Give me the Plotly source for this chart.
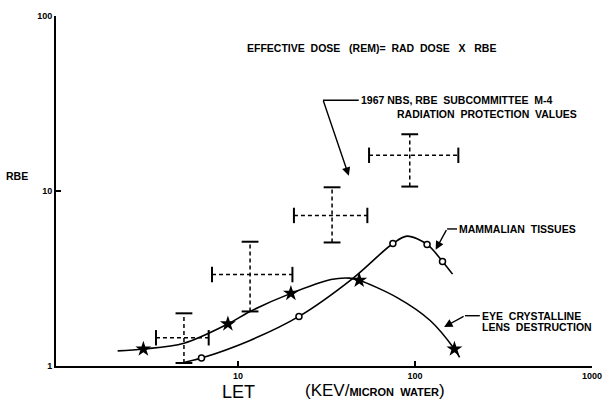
import numpy as np
import plotly.graph_objects as go

# ---- data: RBE versus LET (keV / micron water) ----
# 1967 NBS RBE subcommittee M-4 radiation protection values (ranges)
nbs_let = [4.95, 11.7, 34.0, 93.4]
nbs_let_lo = [3.44, 7.13, 20.7, 55.0]
nbs_let_hi = [6.83, 20.3, 53.8, 175.7]
nbs_rbe = [1.45, 3.33, 7.25, 16.0]
nbs_rbe_lo = [1.04, 2.05, 5.08, 10.6]
nbs_rbe_hi = [2.0, 5.13, 10.5, 21.1]

# eye crystalline lens destruction: measured points and fitted curve
eye_let = [2.92, 8.77, 19.9, 48.4, 167]
eye_rbe = [1.25, 1.74, 2.60, 3.09, 1.25]
eye_curve_let = [2.09, 2.92, 4.95, 8.77, 11.7, 19.9, 33.5, 42.5, 48.4, 79.3, 121.8, 167, 178.7]
eye_curve_rbe = [1.22, 1.25, 1.35, 1.74, 2.05, 2.60, 3.12, 3.18, 3.09, 2.46, 1.82, 1.25, 1.12]

# mammalian tissues: measured points and fitted curve
mam_let = [6.22, 22.1, 75, 117, 143]
mam_rbe = [1.11, 1.92, 5.01, 4.95, 3.96]
mam_curve_let = [4.83, 6.22, 11.7, 22.1, 44.4, 75, 90.2, 117, 143, 163]
mam_curve_rbe = [1.04, 1.11, 1.40, 1.92, 3.16, 5.01, 5.52, 4.95, 3.96, 3.35]

x_ticks = [10, 100, 1000]
x_tick_text = ["10", "100", "1000"]
y_ticks = [1, 10, 100]
y_tick_text = ["1", "10", "100"]

FONT = "Liberation Sans, Arial, sans-serif"
W, H = 613, 407
ML, MR, MT, MB = 56, 17, 11, 41


def px(x):
    return (x - ML) / (W - ML - MR)


def py(y):
    return (H - MB - y) / (H - MT - MB)


fig = go.Figure()

# dashed range crosses with end caps
for i in range(len(nbs_let)):
    fig.add_trace(go.Scatter(
        x=[nbs_let_lo[i], nbs_let_hi[i]], y=[nbs_rbe[i], nbs_rbe[i]],
        mode="lines+markers",
        line=dict(color="black", width=1.5, dash="4px,3px"),
        marker=dict(symbol="line-ns", size=11, line=dict(color="black", width=2)),
        showlegend=False, hoverinfo="skip"))
    fig.add_trace(go.Scatter(
        x=[nbs_let[i], nbs_let[i]], y=[nbs_rbe_lo[i], nbs_rbe_hi[i]],
        mode="lines+markers",
        line=dict(color="black", width=1.5, dash="4px,3px"),
        marker=dict(symbol="line-ew", size=12, line=dict(color="black", width=2)),
        showlegend=False, hoverinfo="skip"))

# fitted curves
fig.add_trace(go.Scatter(
    x=eye_curve_let, y=eye_curve_rbe, mode="lines",
    line=dict(color="black", width=1.6, shape="spline", smoothing=0.9),
    showlegend=False, hoverinfo="skip"))
fig.add_trace(go.Scatter(
    x=mam_curve_let, y=mam_curve_rbe, mode="lines",
    line=dict(color="black", width=1.6, shape="spline", smoothing=0.9),
    showlegend=False, hoverinfo="skip"))

# measured points
fig.add_trace(go.Scatter(
    x=eye_let, y=eye_rbe, mode="markers",
    marker=dict(symbol="star", size=12, color="black"),
    showlegend=False))
fig.add_trace(go.Scatter(
    x=mam_let, y=mam_rbe, mode="markers",
    marker=dict(symbol="circle", size=6, color="white",
                line=dict(color="black", width=1.5)),
    showlegend=False))

annotations = []


def label(text, x, y, size=10.5, anchor="left", bold=True):
    if bold:
        text = "<b>" + text + "</b>"
    annotations.append(dict(
        text=text, x=px(x), y=py(y), xref="paper", yref="paper",
        xanchor=anchor, yanchor="middle", showarrow=False,
        font=dict(family=FONT, size=size, color="black")))


def pointer(tail_x, tail_y, tip_x, tip_y):
    annotations.append(dict(
        text="", x=px(tip_x), y=py(tip_y), xref="paper", yref="paper",
        ax=tail_x - tip_x, ay=tail_y - tip_y, axref="pixel", ayref="pixel",
        showarrow=True, arrowhead=2, arrowsize=1.2, arrowwidth=1.4,
        arrowcolor="black"))


label("EFFECTIVE  DOSE   (REM)=  RAD  DOSE   X   RBE", 246, 43.5)
label("1967 NBS, RBE  SUBCOMMITTEE  M-4", 361, 96.5)
label("RADIATION  PROTECTION  VALUES", 398, 110)
label("MAMMALIAN  TISSUES", 460, 227)
label("EYE  CRYSTALLINE", 483, 315)
label("LENS  DESTRUCTION", 483, 326)
label("RBE", 17, 173, anchor="center")
label("LET", 240, 392, size=18, anchor="center", bold=False)
label("(KEV/<b><span style='font-size:11px'>MICRON  WATER</span></b>)", 305, 391,
      size=17, bold=False)

pointer(325, 96.5, 351, 173)
pointer(450, 227, 438.5, 248)
pointer(468, 315, 447, 326.5)

shapes = []
for x0, x1, y in [(325, 361, 96.5), (450, 460, 227), (468, 483, 315)]:
    shapes.append(dict(type="line", xref="paper", yref="paper",
                       x0=px(x0), x1=px(x1), y0=py(y), y1=py(y),
                       line=dict(color="black", width=1.4)))

fig.update_layout(
    width=W, height=H,
    margin=dict(l=ML, r=MR, t=MT, b=MB),
    paper_bgcolor="white", plot_bgcolor="white",
    font=dict(family=FONT, color="black"),
    annotations=annotations, shapes=shapes,
    showlegend=False,
)
fig.update_xaxes(
    type="log", range=[np.log10(0.937), 3],
    tickvals=x_ticks, ticktext=["<b>%s</b>" % t for t in x_tick_text],
    tickfont=dict(size=9, family=FONT),
    ticks="inside", ticklen=5, tickwidth=1.5, tickcolor="black",
    showline=True, linecolor="black", linewidth=2,
    showgrid=False, zeroline=False,
)
fig.update_yaxes(
    type="log", range=[0, 2],
    tickvals=y_ticks, ticktext=["<b>%s</b>" % t for t in y_tick_text],
    tickfont=dict(size=9, family=FONT),
    ticks="inside", ticklen=5, tickwidth=1.5, tickcolor="black",
    showline=True, linecolor="black", linewidth=2,
    showgrid=False, zeroline=False,
)

fig.write_html("out.html")
